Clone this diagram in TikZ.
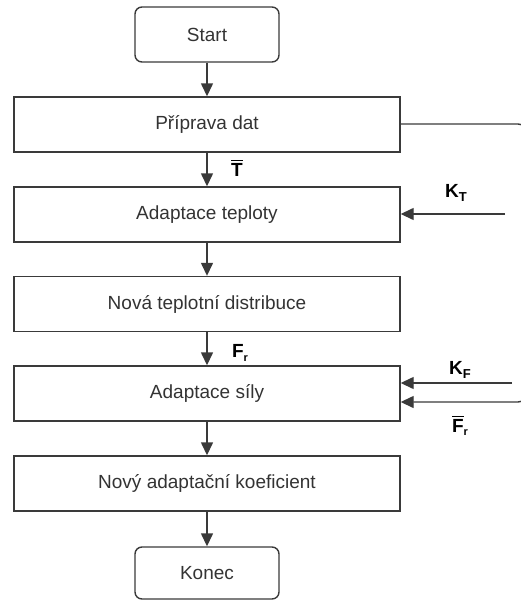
\documentclass[tikz,border=0pt]{standalone}
\usepackage{fontspec}
\setmainfont{Liberation Sans}
\usetikzlibrary{arrows.meta}
\definecolor{ink}{HTML}{3A3A3A}
\definecolor{txt}{HTML}{333333}
% letter with a bar drawn over it
\newcommand\barletter[1]{\leavevmode\vbox{\hrule height 1.3pt\kern 1.8pt\hbox{#1}}}
\tikzset{
  stepbox/.style={draw=ink, line width=1.4pt, rectangle, inner sep=0pt,
    minimum width=386pt, minimum height=55pt, text=txt,
    font=\fontsize{19}{23}\selectfont},
  termbox/.style={stepbox, rounded corners=7pt, minimum width=144pt},
  flow/.style={draw=ink, line width=1.4pt, -{Triangle[length=13pt,width=12pt]}},
  sig/.style={text=black, font=\fontsize{19}{23}\selectfont\bfseries},
}
\begin{document}
\begin{tikzpicture}[x=1pt,y=-1pt]
  \useasboundingbox (0,0) rectangle (520,600);

  % main chain of steps
  \node[termbox] (start) at (207,34.5) {Start};
  \node[stepbox] (prep)  at (207,124.5) {Příprava dat};
  \node[stepbox] (adt)   at (207,214.5) {Adaptace teploty};
  \node[stepbox] (nrd)   at (207,304) {Nová teplotní distribuce};
  \node[stepbox] (ads)   at (207,393.5) {Adaptace síly};
  \node[stepbox] (nak)   at (207,483.5) {Nový adaptační koeficient};
  \node[termbox, minimum height=52pt] (end) at (207,573) {Konec};

  \draw[flow] (start) -- (prep);
  \draw[flow] (prep) -- (adt);
  \draw[flow] (adt) -- (nrd);
  \draw[flow] (nrd) -- (ads);
  \draw[flow] (ads) -- (nak);
  \draw[flow] (nak) -- (end);

  % signal labels on the main chain
  \node[sig] (tbar) at (237,168) {\barletter{T}};
  \node[sig] (fr) at (240,353) {F\raisebox{-0.35ex}{\fontsize{11}{13}\selectfont r}};

  % external inputs
  \coordinate (kt) at (505,214);
  \draw[flow] (kt) -- (kt -| adt.east);
  \node[sig] (ktl) at (456,193) {K\raisebox{-0.35ex}{\fontsize{13}{15}\selectfont T}};

  \coordinate (kf) at (512,383);
  \draw[flow] (kf) -- (kf -| ads.east);
  \node[sig] (kfl) at (460,370) {K\raisebox{-0.35ex}{\fontsize{13}{15}\selectfont F}};

  % feedback loop from data preparation into force adaptation
  \coordinate (fb1) at (526,124);
  \coordinate (fb2) at (526,402);
  \draw[flow, rounded corners=8pt] (prep.east |- fb1) -- (fb1) -- (fb2) -- (fb2 -| ads.east);
  \node[sig] (frbar) at (460,426) {\barletter{F}\raisebox{-0.35ex}{\fontsize{11}{13}\selectfont r}};
\end{tikzpicture}
\end{document}
